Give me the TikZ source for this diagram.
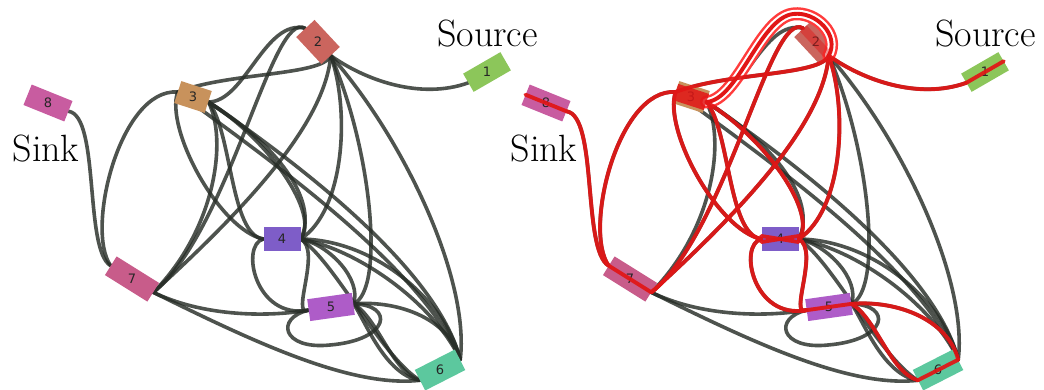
\documentclass[tikz,border=0pt]{standalone}
\usepackage{fontspec}
\newfontfamily\nodefont{DejaVu Sans}
\pgfdeclarelayer{bg}
\pgfdeclarelayer{edges}
\pgfdeclarelayer{top}
\pgfsetlayers{bg,edges,main,top}
\definecolor{cA}{HTML}{8CC65A}
\definecolor{cB}{HTML}{CB655E}
\definecolor{cC}{HTML}{C8925C}
\definecolor{cD}{HTML}{7E5DC8}
\definecolor{cE}{HTML}{AE5CC8}
\definecolor{cF}{HTML}{5CC89E}
\definecolor{cG}{HTML}{C85C8A}
\definecolor{cH}{HTML}{C85CA0}
\definecolor{gedgecol}{RGB}{40,46,40}
\definecolor{redcol}{RGB}{225,22,22}
\definecolor{lightred}{RGB}{255,60,60}
\tikzset{
  gedge/.style={draw=gedgecol, line width=3.6pt, opacity=0.82, line cap=round},
  redge/.style={draw=redcol, line width=3.9pt, opacity=0.93, line cap=round},
  gbox/.style={rectangle, inner sep=0pt, draw=none},
  numtxt/.style={inner sep=0pt, font=\nodefont\fontsize{13}{13}\selectfont, text=black!85},
  lbl/.style={font=\fontsize{38}{40}\selectfont, anchor=base, inner sep=0pt},
}
% edge paths (pixel coordinates of the left panel)
\newcommand\pthA{(n2.east) .. controls (365,80) and (420,100) .. (n1.west)}
\newcommand\pthB{(n8.east) .. controls (100,116) and (84,250) .. (n7.west)}
\newcommand\pthC{(n3.west) .. controls (120,88) and (85,230) .. (n7.west)}
\newcommand\pthD{(n3.west) .. controls (230,72) and (322,76) .. (n2.east)}
\newcommand\pthE{(n3.east) .. controls (245,102) and (265,18) .. (n2.west)}
\newcommand\pthF{(n2.west) .. controls (272,8) and (230,230) .. (n7.east)}
\newcommand\pthG{(n2.east) .. controls (325,120) and (255,200) .. (n7.east)}
\newcommand\pthH{(n3.east) .. controls (228,140) and (215,230) .. (n7.east)}
\newcommand\pthI{(n3.west) .. controls (165,130) and (220,230) .. (n4.west)}
\newcommand\pthJ{(n3.east) .. controls (232,130) and (230,235) .. (n4.west)}
\newcommand\pthK{(n3.east) .. controls (270,140) and (320,215) .. (n4.east)}
\newcommand\pthL{(n3.east) .. controls (285,150) and (318,205) .. (n4.east)}
\newcommand\pthM{(n3.east) .. controls (330,185) and (440,280) .. (n6.east)}
\newcommand\pthN{(n3.west) .. controls (240,140) and (420,260) .. (n6.east)}
\newcommand\pthO{(n2.east) .. controls (350,110) and (345,210) .. (n4.east)}
\newcommand\pthP{(n2.east) .. controls (372,150) and (385,290) .. (n5.east)}
\newcommand\pthQ{(n2.east) .. controls (405,140) and (470,280) .. (n6.east)}
\newcommand\pthR{(n4.west) .. controls (240,245) and (255,320) .. (n5.west)}
\newcommand\pthS{(n4.east) .. controls (322,250) and (290,318) .. (n5.west)}
\newcommand\pthT{(n4.east) .. controls (330,245) and (362,280) .. (n5.east)}
\newcommand\pthU{(n4.east) .. controls (375,240) and (445,300) .. (n6.east)}
\newcommand\pthV{(n4.east) .. controls (360,250) and (435,305) .. (n6.east)}
\newcommand\pthW{(n4.east) .. controls (335,262) and (380,355) .. (n6.west)}
\newcommand\pthX{(n5.east) .. controls (400,300) and (450,320) .. (n6.east)}
\newcommand\pthY{(n5.east) .. controls (395,305) and (390,340) .. (330,345) .. controls (282,350) and (275,318) .. (n5.west)}
\newcommand\pthZ{(n5.east) .. controls (378,318) and (392,372) .. (n6.west)}
\newcommand\pthAA{(n5.east) .. controls (365,320) and (385,375) .. (n6.west)}
\newcommand\pthAB{(n7.east) .. controls (200,315) and (262,318) .. (n5.west)}
\newcommand\pthAC{(n7.east) .. controls (250,340) and (350,388) .. (n6.west)}
\newcommand\pthBundle{(n3.east) .. controls (240,100) and (262,18) .. (295,14) .. controls (318,11) and (342,35) .. (n2.east)}

\newcommand\drawpanel{%
  \node[gbox, fill=cA, minimum width=43pt, minimum height=21pt, rotate=30] (n1) at (487,72) {};
  \node[gbox, fill=cB, minimum width=37pt, minimum height=25pt, rotate=-47] (n2) at (318,42) {};
  \node[gbox, fill=cC, minimum width=32pt, minimum height=23pt, rotate=-18] (n3) at (193,97) {};
  \node[gbox, fill=cD, minimum width=37pt, minimum height=24pt] (n4) at (282,239) {};
  \node[gbox, fill=cE, minimum width=45pt, minimum height=22pt, rotate=8] (n5) at (331,307) {};
  \node[gbox, fill=cF, minimum width=45pt, minimum height=23pt, rotate=27] (n6) at (440,370) {};
  \node[gbox, fill=cG, minimum width=50pt, minimum height=22pt, rotate=-32] (n7) at (132,279) {};
  \node[gbox, fill=cH, minimum width=44pt, minimum height=22pt, rotate=-22] (n8) at (48,103) {};
  \node[numtxt] (t1) at (n1.center) {1};
  \node[numtxt] (t2) at (n2.center) {2};
  \node[numtxt] (t3) at (n3.center) {3};
  \node[numtxt] (t4) at (n4.center) {4};
  \node[numtxt] (t5) at (n5.center) {5};
  \node[numtxt] (t6) at (n6.center) {6};
  \node[numtxt] (t7) at (n7.center) {7};
  \node[numtxt] (t8) at (n8.center) {8};
  \node[lbl] (src) at (487.5,46) {Source};
  \node[lbl] (snk) at (46,161) {Sink};
  \begin{pgfonlayer}{edges}
    \foreach \p in {\pthA,\pthB,\pthC,\pthD,\pthE,\pthF,\pthG,\pthH,\pthI,\pthJ,\pthK,\pthL,\pthM,\pthN,\pthO,\pthP,\pthQ,\pthR,\pthS,\pthT,\pthU,\pthV,\pthW,\pthX,\pthY,\pthZ,\pthAA,\pthAB,\pthAC}
      {\draw[gedge] \p;}
  \end{pgfonlayer}
}

\begin{document}
\begin{tikzpicture}[x=1pt, y=-1pt]
\begin{pgfonlayer}{bg}
\fill[white] (0,0) rectangle (1044,389);
\end{pgfonlayer}
\useasboundingbox (0,0) rectangle (1044,389);
\begin{scope}[name prefix=L-]
  \drawpanel
\end{scope}
\begin{scope}[xshift=498pt, name prefix=R-]
  \drawpanel
  \begin{pgfonlayer}{top}
    % bundle of paths over node 2
    \draw[draw=lightred, line width=13pt, line cap=round] \pthBundle;
    \draw[draw=white, line width=8pt, line cap=round] \pthBundle;
    \draw[draw=redcol, line width=3.9pt, line cap=round] \pthBundle;
    \foreach \p in {\pthA,\pthB,\pthC,\pthD,\pthF,\pthG,\pthI,\pthJ,\pthK,\pthO,\pthR,\pthS,\pthX,\pthZ}
      {\draw[redge] \p;}
    \draw[redge] (n1.west) -- (n1.east);
    \draw[redge] (n8.west) -- (n8.east);
    \draw[redge] (n7.west) -- (n7.east);
    \draw[redge] (n5.west) -- (n5.east);
    \draw[redge] (n6.west) -- (n6.east);
    \draw[redge] ([yshift=3pt]n4.west) -- ([yshift=-3pt]n4.east);
    \draw[redge] ([yshift=-3pt]n4.west) -- ([yshift=3pt]n4.east);
    \draw[draw=redcol, line width=9pt, opacity=0.45] (n2.west) -- (n2.east);
    \draw[draw=redcol, line width=17pt, opacity=0.85] (n3.west) -- (n3.east);
  \end{pgfonlayer}
\end{scope}
\end{tikzpicture}
\end{document}
